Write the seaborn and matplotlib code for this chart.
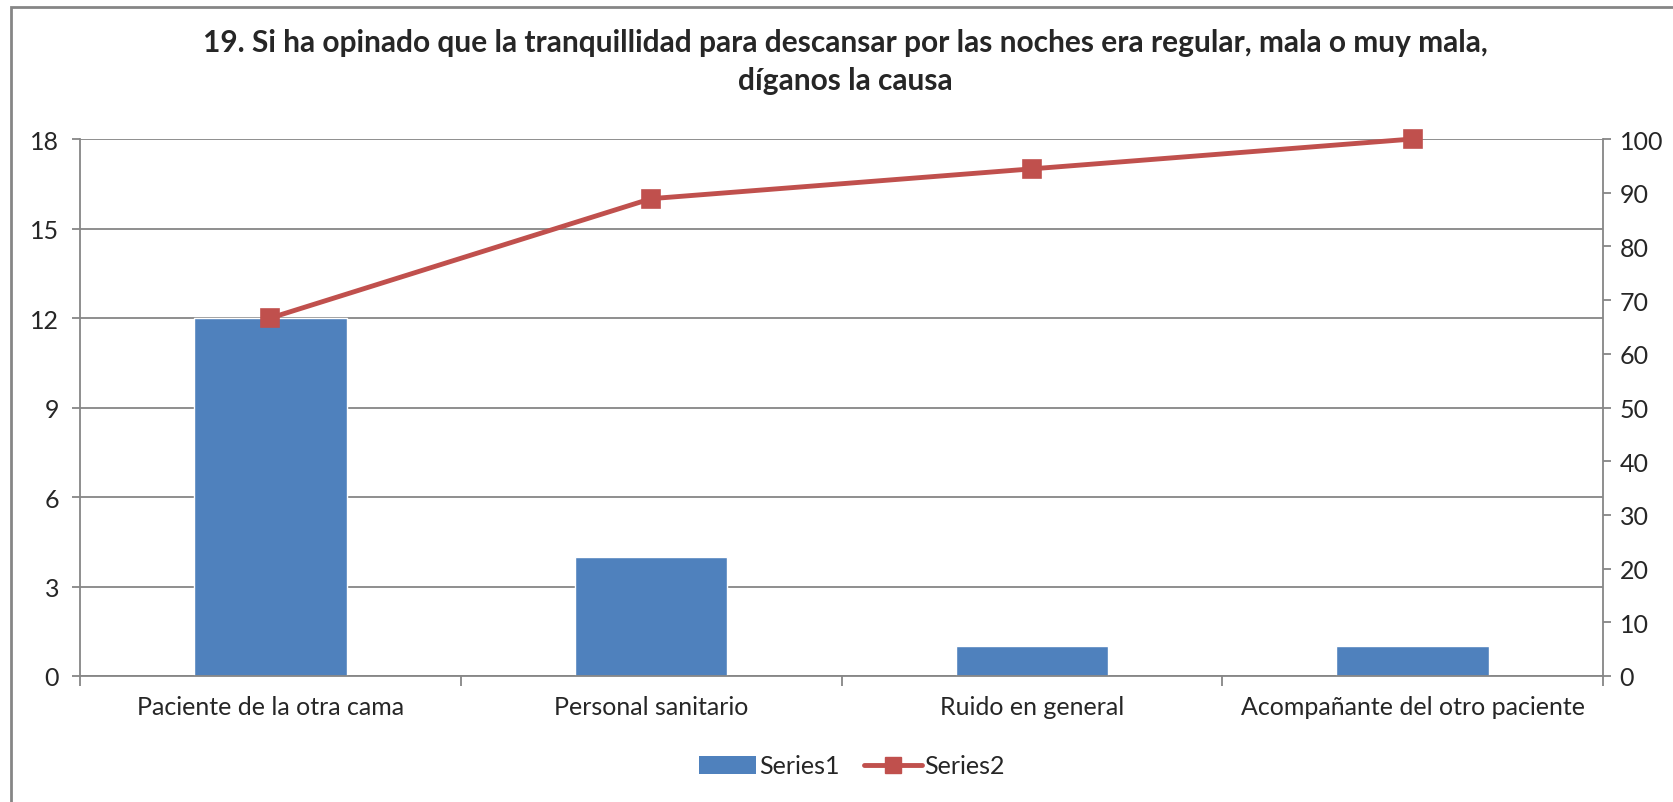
import numpy as np
import pandas as pd
import seaborn as sns
import matplotlib.pyplot as plt
from matplotlib.patches import Patch, Rectangle
from matplotlib.lines import Line2D

categories = ["Paciente de la otra cama", "Personal sanitario",
              "Ruido en general", "Acompañante del otro paciente"]
series1 = [12, 4, 1, 1]
series2 = [66.67, 88.89, 94.44, 100.0]
left_ticks = [0, 3, 6, 9, 12, 15, 18]
right_ticks = [0, 10, 20, 30, 40, 50, 60, 70, 80, 90, 100]
title = ("19. Si ha opinado que la tranquillidad para descansar por las noches era regular, mala o muy mala,\n"
         "díganos la causa")

BLUE = "#4F81BD"
RED = "#C0504D"
GREY = "#868686"

sns.set_style("white")
plt.rcParams['font.family'] = ['Lato', 'DejaVu Sans']

df = pd.DataFrame({"cat": categories, "s1": series1, "s2": series2})

fig = plt.figure(figsize=(16.74, 8.03), dpi=100)
ax = fig.add_axes([80 / 1674, 1 - 677 / 803, (1603 - 80) / 1674, (677 - 140) / 803])

sns.barplot(data=df, x="cat", y="s1", color=BLUE, width=0.4, saturation=1, ax=ax)

ax.set_ylim(0, 18)
ax.set_yticks(left_ticks)
ax.grid(axis="y", color=GREY, linewidth=1.3)
ax.set_axisbelow(True)
ax.set_xlim(-0.5, 3.5)
ax.set_xlabel("")
ax.set_ylabel("")
ax.set_xticks(np.arange(-0.5, 4, 1))
ax.set_xticklabels([])
ax.set_xticks(range(len(categories)), minor=True)
ax.set_xticklabels(categories, minor=True)
ax.tick_params(axis="x", which="major", length=7, color=GREY, width=1.3, direction="out", bottom=True)
ax.tick_params(axis="x", which="minor", length=0, labelsize=18, pad=14)
ax.tick_params(axis="y", length=6, color=GREY, width=1.3, direction="out", left=True, labelsize=18, pad=9)
for s in ["top", "right"]:
    ax.spines[s].set_visible(False)
for s in ["left", "bottom"]:
    ax.spines[s].set_color(GREY)
    ax.spines[s].set_linewidth(1.3)

ax2 = ax.twinx()
sns.pointplot(data=df, x="cat", y="s2", color=RED, markers="s", markersize=12,
              linewidth=3.5, ax=ax2)
for art in ax2.lines + ax2.collections:
    art.set_clip_on(False)
ax2.set_ylim(0, 100)
ax2.set_yticks(right_ticks)
ax2.set_ylabel("")
ax2.set_xlabel("")
ax2.set_xlim(-0.5, 3.5)
ax2.set_xticks(np.arange(-0.5, 4, 1))
ax2.set_xticklabels([])
ax2.set_xticks(range(len(categories)), minor=True)
ax2.set_xticklabels(categories, minor=True)
ax2.tick_params(axis="x", which="both", length=0, labelbottom=False)
ax2.tick_params(axis="y", length=6, color=GREY, width=1.3, direction="out", right=True, labelsize=18, pad=6)
for s in ["top", "left", "bottom"]:
    ax2.spines[s].set_visible(False)
ax2.spines["right"].set_color(GREY)
ax2.spines["right"].set_linewidth(1.3)

fig.text(0.505, 1 - 62 / 803, title, ha="center", va="center", fontsize=21.5,
         fontweight="bold", linespacing=1.45)

handles = [Patch(facecolor=BLUE, edgecolor="none"),
           Line2D([], [], color=RED, linewidth=3.5, marker="s", markersize=12)]
fig.legend(handles, ["Series1", "Series2"], loc="center", ncol=2, frameon=False,
           bbox_to_anchor=(852 / 1674, 1 - 767 / 803), fontsize=18,
           handlelength=2.3, handletextpad=0.1, columnspacing=1.0)

fig.patches.append(Rectangle((11 / 1674, -0.1), 1.2, 1 - 8 / 803 + 0.1,
                             transform=fig.transFigure, fill=False,
                             edgecolor=GREY, linewidth=2, zorder=-1))

fig.savefig("out.png", dpi=100)
